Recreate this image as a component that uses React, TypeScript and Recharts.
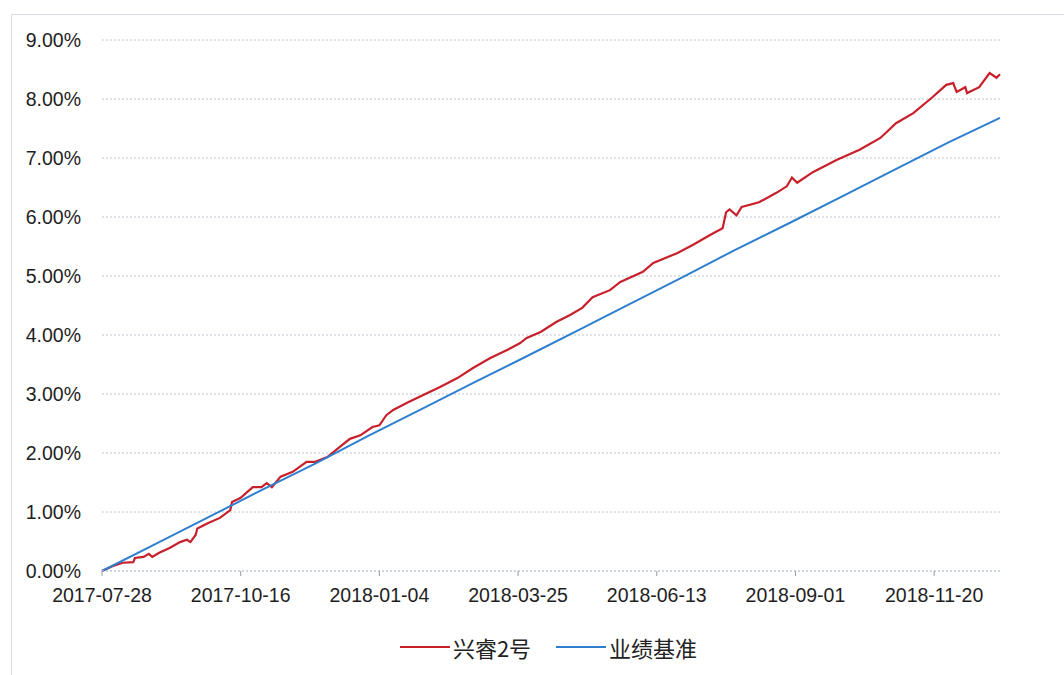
import React from "react";
import { LineChart, Line, XAxis, YAxis, CartesianGrid, Legend } from "recharts";

const START = "2017-07-28";
const END = "2018-12-28";

const xTickLabels = ["2017-07-28", "2017-10-16", "2018-01-04", "2018-03-25", "2018-06-13", "2018-09-01", "2018-11-20"];
const yTickValues = [0, 1, 2, 3, 4, 5, 6, 7, 8, 9];

const seriesNames = ["兴睿2号", "业绩基准"];
const seriesColors = ["#c8202b", "#2f7fcf"];

const fundDates = [
  "2017-07-28", "2017-08-03", "2017-08-09", "2017-08-15", "2017-08-16", "2017-08-21", "2017-08-24", "2017-08-26",
  "2017-08-30", "2017-09-05", "2017-09-11", "2017-09-15", "2017-09-17", "2017-09-20", "2017-09-21", "2017-09-27",
  "2017-10-04", "2017-10-10", "2017-10-11", "2017-10-16", "2017-10-21", "2017-10-23", "2017-10-28", "2017-10-31",
  "2017-11-03", "2017-11-08", "2017-11-15", "2017-11-23", "2017-11-28", "2017-12-05", "2017-12-12", "2017-12-18",
  "2017-12-24", "2017-12-31", "2018-01-04", "2018-01-08", "2018-01-12", "2018-01-20", "2018-01-29", "2018-02-08",
  "2018-02-18", "2018-02-27", "2018-03-09", "2018-03-19", "2018-03-26", "2018-03-30", "2018-04-07", "2018-04-16",
  "2018-04-24", "2018-05-01", "2018-05-07", "2018-05-17", "2018-05-23", "2018-06-05", "2018-06-11", "2018-06-25",
  "2018-07-04", "2018-07-14", "2018-07-21", "2018-07-23", "2018-07-25", "2018-07-29", "2018-08-01", "2018-08-11",
  "2018-08-21", "2018-08-27", "2018-08-30", "2018-09-02", "2018-09-11", "2018-09-25", "2018-10-08", "2018-10-20",
  "2018-10-29", "2018-11-08", "2018-11-19", "2018-11-27", "2018-12-01", "2018-12-03", "2018-12-08", "2018-12-09",
  "2018-12-16", "2018-12-22", "2018-12-26", "2018-12-28",
];
const fundValues = [
  0.0, 0.08, 0.14, 0.15, 0.22, 0.24, 0.29, 0.24,
  0.31, 0.39, 0.49, 0.53, 0.49, 0.61, 0.72, 0.81,
  0.9, 1.03, 1.17, 1.24, 1.37, 1.42, 1.42, 1.49,
  1.42, 1.6, 1.68, 1.85, 1.85, 1.93, 2.1, 2.24,
  2.3, 2.44, 2.47, 2.64, 2.73, 2.85, 2.98, 3.12,
  3.27, 3.44, 3.61, 3.75, 3.86, 3.95, 4.05, 4.22,
  4.34, 4.46, 4.64, 4.76, 4.9, 5.07, 5.22, 5.39,
  5.53, 5.7, 5.81, 6.08, 6.13, 6.03, 6.17, 6.25,
  6.41, 6.52, 6.67, 6.58, 6.76, 6.97, 7.14, 7.34,
  7.59, 7.76, 8.03, 8.24, 8.27, 8.12, 8.2, 8.1,
  8.2, 8.44, 8.36, 8.42,
];

const benchDates = [
  "2017-07-28", "2017-08-28", "2017-09-28", "2017-10-28", "2017-11-28", "2017-12-28", "2018-01-28", "2018-02-28",
  "2018-03-28", "2018-04-28", "2018-05-28", "2018-06-28", "2018-07-28", "2018-08-28", "2018-09-28", "2018-10-28",
  "2018-11-28", "2018-12-28",
];
const benchValues = [
  0.0, 0.46, 0.92, 1.37, 1.82, 2.28, 2.74, 3.2,
  3.61, 4.07, 4.52, 4.98, 5.44, 5.89, 6.35, 6.8,
  7.26, 7.68,
];

const DAY = 86400000;
const base = Date.parse(START + "T00:00:00Z");
const dayOf = (s: string) => Math.round((Date.parse(s + "T00:00:00Z") - base) / DAY);
const fmtDay = (d: number) => new Date(base + d * DAY).toISOString().slice(0, 10);

const fundData = fundDates.map((d, i) => ({ t: dayOf(d), v: fundValues[i] }));
const benchData = benchDates.map((d, i) => ({ t: dayOf(d), v: benchValues[i] }));
const xTicks = xTickLabels.map(dayOf);

const textFont = "'Liberation Sans', Arial, sans-serif";

const renderLegend = (props: any) => {
  const payload = [...(props.payload || [])].sort(
    (a: any, b: any) => seriesNames.indexOf(a.value) - seriesNames.indexOf(b.value)
  );
  return (
    <div
      style={{
        height: 36,
        display: "flex",
        alignItems: "center",
        justifyContent: "center",
        paddingLeft: 97,
        fontFamily: "'Noto Sans CJK SC', sans-serif",
        fontSize: 22,
        color: "#222",
      }}
    >
      {payload.map((p: any, i: number) => (
        <div key={i} style={{ display: "flex", alignItems: "center", marginRight: i === 0 ? 25 : 0 }}>
          <div style={{ width: 50, height: 2, background: p.color, marginRight: 3 }} />
          <span>{p.value}</span>
        </div>
      ))}
    </div>
  );
};

export default function App() {
  return (
    <div style={{ position: "absolute", left: 0, top: 0, width: 1064, height: 675, background: "#fff" }}>
      <div
        style={{
          position: "absolute",
          left: 11,
          top: 14,
          width: 1053,
          height: 661,
          borderTop: "1px solid #d9dde3",
          borderLeft: "1px solid #d9dde3",
          boxSizing: "border-box",
        }}
      />
      <LineChart
        width={1064}
        height={675}
        margin={{ top: 40, right: 64, bottom: 10, left: 0 }}
        style={{ position: "absolute", left: 0, top: 0 }}
      >
        <CartesianGrid vertical={false} stroke="#bcc6d3" strokeDasharray="2 2" />
        <XAxis
          type="number"
          dataKey="t"
          domain={[0, dayOf(END)]}
          ticks={xTicks}
          tickFormatter={fmtDay}
          height={58}
          tickSize={5}
          tickMargin={12}
          axisLine={{ stroke: "#bcc6d3", strokeDasharray: "2 2" }}
          tickLine={{ stroke: "#999" }}
          tick={{ fill: "#1e1e1e", fontSize: 19.5, fontFamily: textFont }}
          allowDecimals={false}
        />
        <YAxis
          type="number"
          domain={[0, 9]}
          ticks={yTickValues}
          tickFormatter={(v: number) => v.toFixed(2) + "%"}
          width={102}
          tickSize={0}
          tickMargin={21}
          axisLine={false}
          tickLine={false}
          tick={{ fill: "#1e1e1e", fontSize: 19.5, fontFamily: textFont }}
        />
        <Legend verticalAlign="bottom" content={renderLegend} />
        <Line
          data={fundData}
          dataKey="v"
          name={seriesNames[0]}
          stroke={seriesColors[0]}
          strokeWidth={2.2}
          dot={false}
          isAnimationActive={false}
          type="linear"
        />
        <Line
          data={benchData}
          dataKey="v"
          name={seriesNames[1]}
          stroke={seriesColors[1]}
          strokeWidth={2}
          dot={false}
          isAnimationActive={false}
          type="linear"
        />
      </LineChart>
    </div>
  );
}
